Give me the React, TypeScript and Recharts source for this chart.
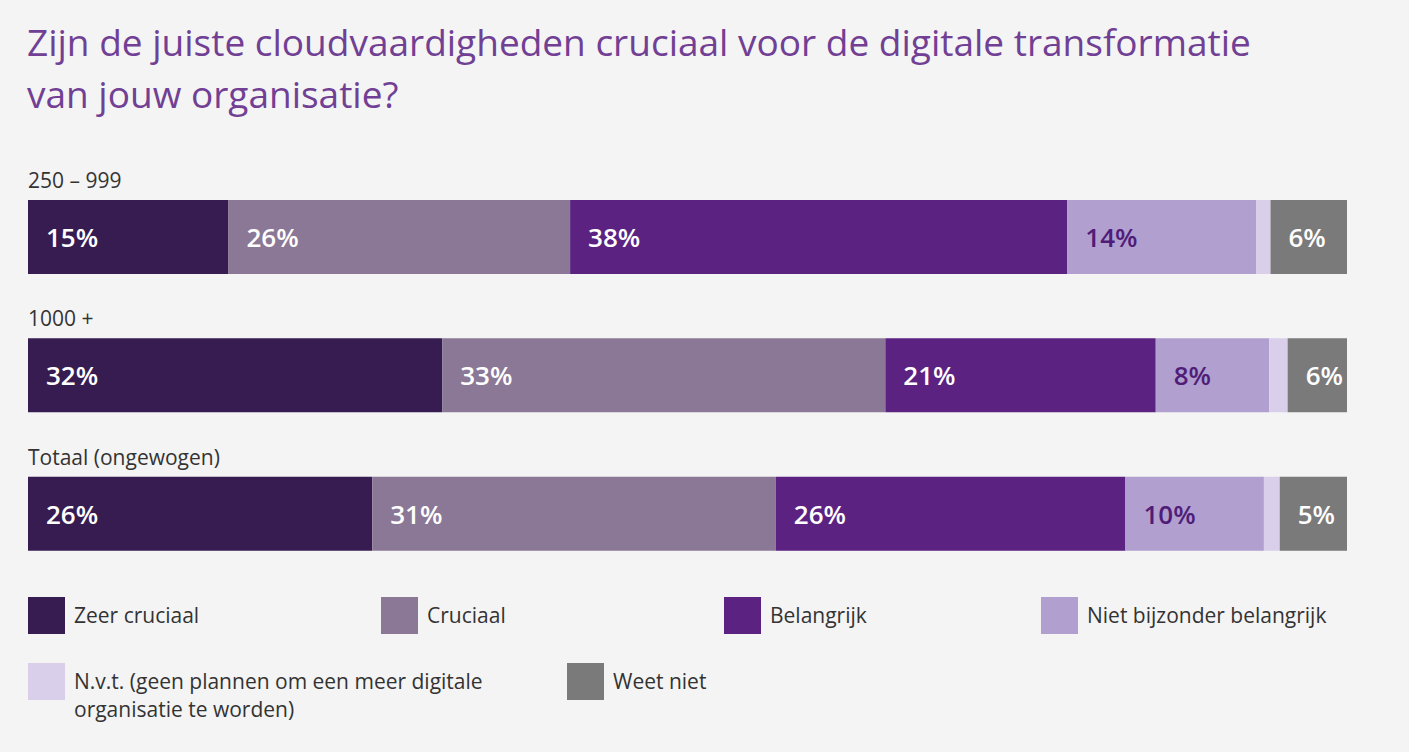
import { Bar, BarChart, LabelList, XAxis, YAxis } from "recharts";

const groups = ["250 – 999", "1000 +", "Totaal (ongewogen)"];

const zeerCruciaal = [15.2, 31.4, 26.1];
const cruciaal = [25.9, 33.6, 30.6];
const belangrijk = [37.7, 20.5, 26.5];
const nietBijzonder = [14.3, 8.6, 10.5];
const nvt = [1.1, 1.4, 1.2];
const weetNiet = [5.8, 4.5, 5.1];

const zeerLabels = ["15%", "32%", "26%"];
const cruciaalLabels = ["26%", "33%", "31%"];
const belangrijkLabels = ["38%", "21%", "26%"];
const nietLabels = ["14%", "8%", "10%"];
const weetLabels = ["6%", "6%", "5%"];

const FONT = "'Open Sans', 'Noto Sans', sans-serif";
const BG = "#F4F4F4";

const series = [
  { key: "zeer", name: "Zeer cruciaal", values: zeerCruciaal, labels: zeerLabels, color: "#371C52", text: "#FFFFFF" },
  { key: "cruciaal", name: "Cruciaal", values: cruciaal, labels: cruciaalLabels, color: "#8B7896", text: "#FFFFFF" },
  { key: "belangrijk", name: "Belangrijk", values: belangrijk, labels: belangrijkLabels, color: "#5B2282", text: "#FFFFFF" },
  { key: "niet", name: "Niet bijzonder belangrijk", values: nietBijzonder, labels: nietLabels, color: "#B19FCF", text: "#4F1D78" },
  { key: "nvt", name: "N.v.t. (geen plannen om een meer digitale organisatie te worden)", values: nvt, labels: null, color: "#D9CFEA", text: "#FFFFFF" },
  { key: "weet", name: "Weet niet", values: weetNiet, labels: weetLabels, color: "#7A7A7A", text: "#FFFFFF" },
];

const data = groups.map((g, i) => {
  const row: Record<string, string | number> = { group: g };
  series.forEach((s) => {
    row[s.key] = s.values[i];
  });
  return row;
});

// legend slots, two rows
const legendPos = [
  { x: 28, y: 597 },
  { x: 381, y: 597 },
  { x: 724, y: 597 },
  { x: 1041, y: 597 },
  { x: 28, y: 663 },
  { x: 567, y: 663 },
];

function makeLabel(labels: string[], color: string, withGroup: boolean) {
  return (props: any) => {
    const { x, y, height, index } = props;
    return (
      <g>
        {withGroup && (
          <text x={x} y={y - 12} fill="#333333" fontSize={21} fontFamily={FONT}>
            {groups[index]}
          </text>
        )}
        <text
          x={x + 18}
          y={y + height / 2}
          dominantBaseline="central"
          fill={color}
          fontSize={26}
          fontWeight={600}
          fontFamily={FONT}
        >
          {labels[index]}
        </text>
      </g>
    );
  };
}

export default function App() {
  return (
    <div
      style={{
        position: "absolute",
        top: 0,
        left: 0,
        width: 1409,
        height: 752,
        background: BG,
        fontFamily: FONT,
        overflow: "hidden",
      }}
    >
      <div
        style={{
          position: "absolute",
          left: 27,
          top: 16,
          fontSize: 37,
          lineHeight: "52px",
          color: "#713F94",
          width: 1340,
        }}
      >
        Zijn de juiste cloudvaardigheden cruciaal voor de digitale transformatie
        <br />
        van jouw organisatie?
      </div>
      <div style={{ position: "absolute", left: 0, top: 0 }}>
        <BarChart
          width={1409}
          height={600}
          data={data}
          layout="vertical"
          margin={{ top: 168, right: 62, bottom: 17, left: 28 }}
        >
          <XAxis type="number" domain={[0, 100]} hide />
          <YAxis type="category" dataKey="group" hide />
          {series.map((s, si) => (
            <Bar
              key={s.key}
              dataKey={s.key}
              stackId="a"
              fill={s.color}
              barSize={74}
              isAnimationActive={false}
            >
              {s.labels && (
                <LabelList dataKey={s.key} content={makeLabel(s.labels, s.text, si === 0)} />
              )}
            </Bar>
          ))}
        </BarChart>
      </div>
      {series.map((s, i) => (
        <div
          key={s.key}
          style={{
            position: "absolute",
            left: legendPos[i].x,
            top: legendPos[i].y,
            display: "flex",
            alignItems: "flex-start",
          }}
        >
          <div style={{ width: 37, height: 37, background: s.color, flexShrink: 0 }} />
          <div
            style={{
              marginLeft: 9,
              fontSize: 21,
              lineHeight: "28px",
              color: "#333333",
              width: s.key === "nvt" ? 450 : "auto",
              whiteSpace: s.key === "nvt" ? "normal" : "nowrap",
              marginTop: 4,
            }}
          >
            {s.name}
          </div>
        </div>
      ))}
    </div>
  );
}
